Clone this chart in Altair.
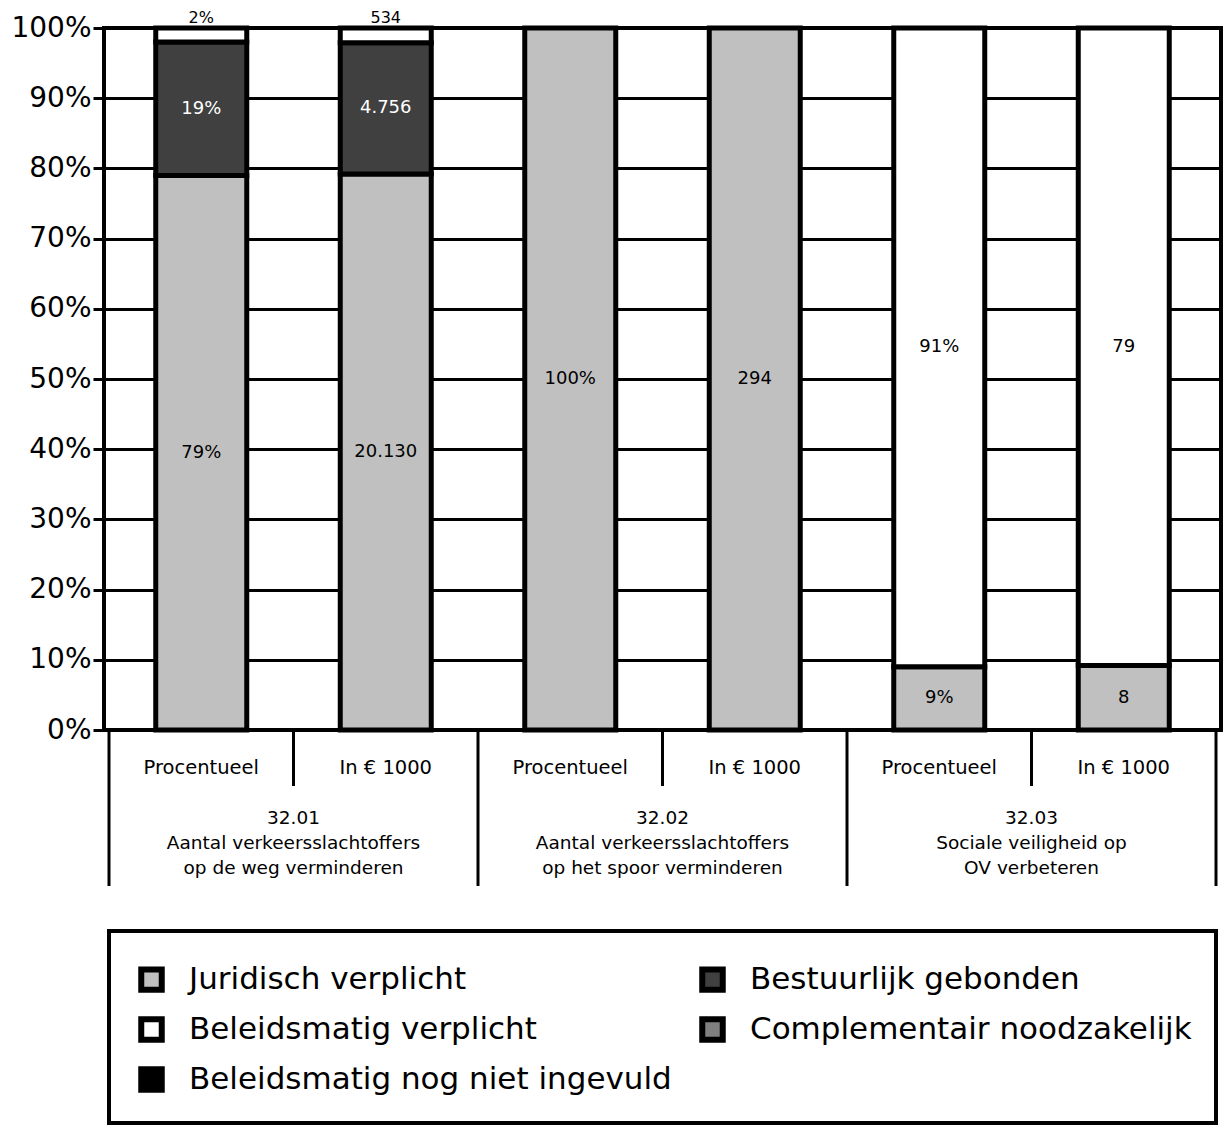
import altair as alt
import pandas as pd

# ---------------- data ----------------
categories = ["Juridisch verplicht", "Bestuurlijk gebonden", "Beleidsmatig verplicht",
              "Complementair noodzakelijk", "Beleidsmatig nog niet ingevuld"]
colors = ["#c0c0c0", "#404040", "#ffffff", "#808080", "#000000"]
# order in which the legend lists the categories (column by column)
legend_order = ["Juridisch verplicht", "Beleidsmatig verplicht", "Beleidsmatig nog niet ingevuld",
                "Bestuurlijk gebonden", "Complementair noodzakelijk"]

bar_kinds = ["Procentueel", "In € 1000", "Procentueel", "In € 1000", "Procentueel", "In € 1000"]
groups = ["32.01\nAantal verkeersslachtoffers\nop de weg verminderen",
          "32.02\nAantal verkeersslachtoffers\nop het spoor verminderen",
          "32.03\nSociale veiligheid op\nOV verbeteren"]

juridisch = [79, 20130, 100, 294, 9, 8]
bestuurlijk = [19, 4756, 0, 0, 0, 0]
beleid_verplicht = [2, 534, 0, 0, 91, 79]
complementair = [0, 0, 0, 0, 0, 0]
nog_niet = [0, 0, 0, 0, 0, 0]

series = [juridisch, bestuurlijk, beleid_verplicht, complementair, nog_niet]

FONT = "DejaVu Sans"

def fmt(v, kind):
    if kind == "Procentueel":
        return f"{v}%"
    return f"{v:,}".replace(",", ".")

rows = []
for i, kind in enumerate(bar_kinds):
    for j, cat in enumerate(categories):
        v = series[j][i]
        if v > 0:
            rows.append({"pos": i + 0.5, "cat": cat, "rank": j, "value": v,
                         "label": fmt(v, kind)})
df = pd.DataFrame(rows)

sub_df = pd.DataFrame({"pos": [i + 0.5 for i in range(len(bar_kinds))], "text": bar_kinds})
grp_df = pd.DataFrame({"pos": [2 * g + 1 for g in range(len(groups))], "text": groups})
grp_sep = pd.DataFrame({"pos": [2 * g for g in range(len(groups) + 1)]})
sub_sep = pd.DataFrame({"pos": [2 * g + 1 for g in range(len(groups))]})
box_df = pd.DataFrame({"x0": [0], "x1": [len(bar_kinds)]})

legend_colors = [colors[categories.index(c)] for c in legend_order]

xscale = alt.Scale(domain=[0, len(bar_kinds)], nice=False, zero=False)
yscale = alt.Scale(domain=[0, 1], nice=False)

bars = alt.Chart(df).mark_bar(width=91, stroke="black", strokeWidth=5, opacity=1).encode(
    x=alt.X("pos:Q", scale=xscale, axis=None),
    y=alt.Y("value:Q", stack="normalize", scale=yscale,
            axis=alt.Axis(values=[k / 10 for k in range(11)], format=".0%", title=None,
                          grid=True, gridColor="black", gridWidth=3, gridOpacity=1,
                          tickColor="black", tickWidth=3, tickSize=11,
                          labelFont=FONT, labelFontSize=28, labelColor="black",
                          labelPadding=2, domain=False, labelOverlap=False)),
    color=alt.Color("cat:N", scale=alt.Scale(domain=legend_order, range=legend_colors),
                    legend=alt.Legend(orient="none", legendX=32, legendY=936, columns=2,
                                      title=None, symbolType="square", symbolSize=420,
                                      symbolStrokeWidth=6, symbolStrokeColor="black",
                                      labelFont=FONT, labelFontSize=31, labelColor="black",
                                      rowPadding=5, columnPadding=18, labelOffset=22,
                                      padding=0, labelLimit=1000)),
    order=alt.Order("rank:Q"),
)

stacked = alt.Chart(df).transform_stack(
    stack="value", as_=["y0", "y1"], groupby=["pos"],
    sort=[alt.SortField("rank")], offset="normalize"
).transform_calculate(mid="(datum.y0 + datum.y1) / 2", frac="datum.y1 - datum.y0")

txt_color = alt.condition(alt.datum.cat == "Bestuurlijk gebonden", alt.value("white"), alt.value("black"))

inner_text = stacked.transform_filter("datum.frac >= 0.05").mark_text(
    font=FONT, fontSize=18, baseline="middle").encode(
    x=alt.X("pos:Q", scale=xscale, axis=None),
    y=alt.Y("mid:Q", scale=yscale),
    text="label:N",
    color=txt_color,
)

outer_text = stacked.transform_filter("datum.frac < 0.05").mark_text(
    font=FONT, fontSize=16, baseline="middle", dy=-10, color="black").encode(
    x=alt.X("pos:Q", scale=xscale, axis=None),
    y=alt.Y("y1:Q", scale=yscale),
    text="label:N",
)

grp_rules = alt.Chart(grp_sep).mark_rule(color="black", strokeWidth=3).encode(
    x=alt.X("pos:Q", scale=xscale, axis=None), y=alt.value(702), y2=alt.value(858))
sub_rules = alt.Chart(sub_sep).mark_rule(color="black", strokeWidth=3).encode(
    x=alt.X("pos:Q", scale=xscale, axis=None), y=alt.value(702), y2=alt.value(758))

sub_text = alt.Chart(sub_df).mark_text(font=FONT, fontSize=19.5, baseline="middle",
                                       color="black").encode(
    x=alt.X("pos:Q", scale=xscale, axis=None), y=alt.value(740), text="text:N")
grp_text = alt.Chart(grp_df).mark_text(font=FONT, fontSize=18.5, baseline="middle",
                                       lineBreak="\n", lineHeight=25, color="black").encode(
    x=alt.X("pos:Q", scale=xscale, axis=None), y=alt.value(790), text="text:N")

box = alt.Chart(box_df).mark_rect(fill="white", fillOpacity=0, stroke="black", strokeWidth=4).encode(
    x=alt.X("x0:Q", scale=xscale, axis=None), x2="x1:Q",
    y=alt.value(903), y2=alt.value(1095))

chart = alt.layer(grp_rules, sub_rules, bars, inner_text, outer_text, sub_text, grp_text, box).properties(
    width=1117, height=702,
    padding={"left": 96, "top": 20, "right": 2, "bottom": 396},
    autosize=alt.AutoSizeParams(type="none"),
    background="white",
).configure_view(stroke="black", strokeWidth=4)

chart.save("out.html", embed_options={"renderer": "svg", "actions": False})
